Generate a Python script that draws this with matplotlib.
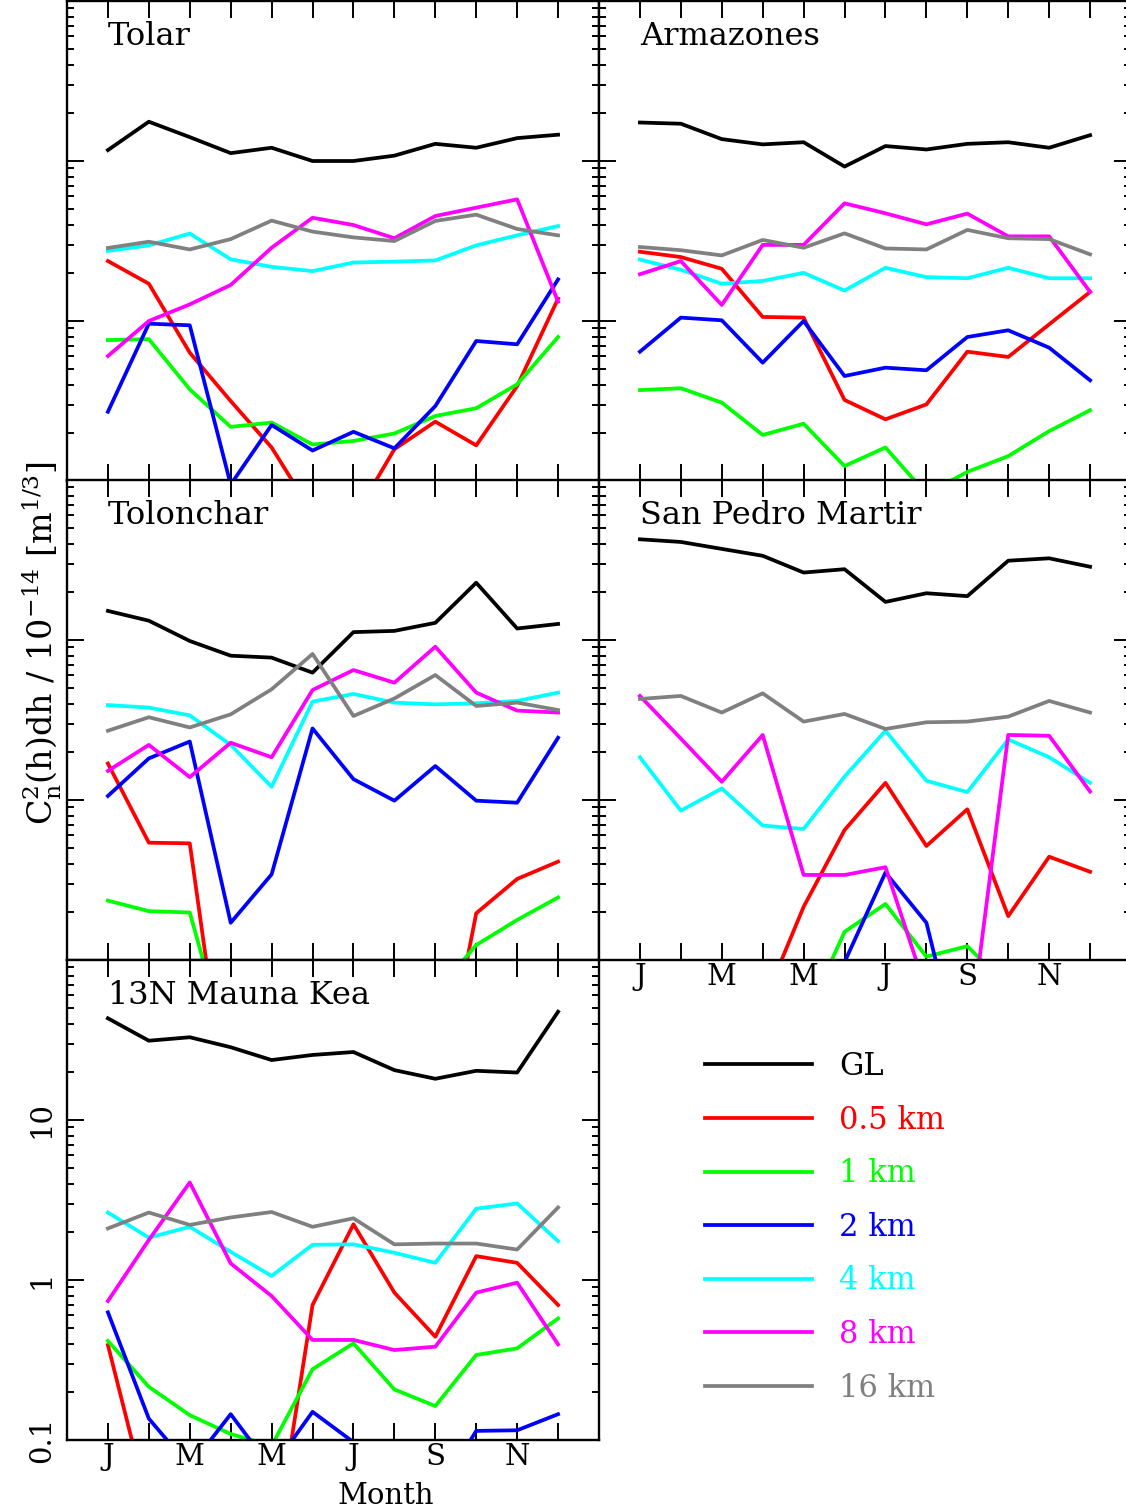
import numpy as np
import matplotlib
matplotlib.use('Agg')
import matplotlib.pyplot as plt
from matplotlib.ticker import LogLocator, NullFormatter, FixedLocator

plt.rcParams['font.family'] = ['DejaVu Serif']
plt.rcParams['mathtext.fontset'] = 'dejavuserif'

months = np.arange(1, 13)
month_labels = ['J', '', 'M', '', 'M', '', 'J', '', 'S', '', 'N', '']
series_names = ['GL', '0.5 km', '1 km', '2 km', '4 km', '8 km', '16 km']
colors = ['#000000', '#ff0000', '#00ff00', '#0000ff', '#00ffff', '#ff00ff', '#808080']
y_tick_values = [0.1, 1, 10]
y_tick_labels = ['0.1', '1', '10']

# Tolar
tolar_gl = [11.7, 17.6, 14.1, 11.2, 12.1, 10.0, 10.0, 10.8, 12.8, 12.1, 13.9, 14.6]
tolar_05 = [2.37, 1.71, 0.634, 0.316, 0.162, 0.063, 0.058, 0.158, 0.235, 0.167, 0.392, 1.38]
tolar_1 = [0.76, 0.77, 0.374, 0.218, 0.232, 0.169, 0.178, 0.198, 0.255, 0.285, 0.402, 0.794]
tolar_2 = [0.271, 0.962, 0.94, 0.095, 0.224, 0.155, 0.203, 0.16, 0.294, 0.75, 0.715, 1.82]
tolar_4 = [2.74, 2.97, 3.52, 2.43, 2.18, 2.05, 2.32, 2.35, 2.39, 2.97, 3.43, 3.92]
tolar_8 = [0.604, 1.0, 1.27, 1.68, 2.87, 4.42, 3.98, 3.29, 4.53, 5.11, 5.76, 1.32]
tolar_16 = [2.86, 3.13, 2.80, 3.25, 4.24, 3.62, 3.33, 3.16, 4.22, 4.62, 3.76, 3.43]

# Armazones
arm_gl = [17.4, 17.1, 13.7, 12.7, 13.1, 9.23, 12.4, 11.8, 12.8, 13.1, 12.1, 14.5]
arm_05 = [2.71, 2.51, 2.12, 1.06, 1.05, 0.321, 0.243, 0.301, 0.643, 0.596, 0.953, 1.52]
arm_1 = [0.37, 0.38, 0.309, 0.194, 0.228, 0.124, 0.162, 0.083, 0.114, 0.143, 0.205, 0.277]
arm_2 = [0.643, 1.05, 1.01, 0.549, 1.0, 0.453, 0.511, 0.492, 0.794, 0.875, 0.681, 0.426]
arm_4 = [2.42, 2.09, 1.71, 1.78, 2.00, 1.55, 2.15, 1.88, 1.85, 2.15, 1.85, 1.85]
arm_8 = [1.96, 2.37, 1.26, 2.99, 2.99, 5.44, 4.71, 4.02, 4.69, 3.38, 3.38, 1.52]
arm_16 = [2.90, 2.77, 2.57, 3.21, 2.87, 3.53, 2.84, 2.80, 3.71, 3.29, 3.25, 2.61]

# Tolonchar
tol_gl = [15.2, 13.2, 9.86, 7.98, 7.76, 6.25, 11.2, 11.4, 12.8, 22.8, 11.8, 12.6]
tol_05 = [1.69, 0.541, 0.536, 0.008, 0.008, 0.008, 0.008, 0.008, 0.0096, 0.196, 0.321, 0.412]
tol_1 = [0.235, 0.202, 0.198, 0.024, 0.02, 0.02, 0.02, 0.02, 0.062, 0.124, 0.178, 0.246]
tol_2 = [1.06, 1.82, 2.32, 0.171, 0.343, 2.80, 1.35, 0.99, 1.63, 0.99, 0.962, 2.45]
tol_4 = [3.92, 3.78, 3.38, 2.21, 1.21, 4.12, 4.60, 4.06, 3.96, 4.02, 4.16, 4.69]
tol_8 = [1.52, 2.21, 1.39, 2.28, 1.85, 4.87, 6.49, 5.41, 9.08, 4.69, 3.62, 3.52]
tol_16 = [2.71, 3.29, 2.84, 3.43, 4.92, 8.18, 3.35, 4.31, 6.04, 3.87, 4.06, 3.65]

# San Pedro Martir
spm_gl = [42.6, 41.0, 37.1, 33.6, 26.4, 27.7, 17.3, 19.6, 18.8, 31.3, 32.4, 28.7]
spm_05 = [0.03, 0.03, 0.03, 0.052, 0.215, 0.649, 1.28, 0.516, 0.875, 0.188, 0.442, 0.356]
spm_1 = [0.03, 0.03, 0.03, 0.03, 0.041, 0.150, 0.224, 0.105, 0.122, 0.068, 0.05, 0.05]
spm_2 = [0.03, 0.03, 0.03, 0.03, 0.03, 0.097, 0.352, 0.171, 0.016, 0.03, 0.03, 0.03]
spm_4 = [1.85, 0.858, 1.18, 0.692, 0.659, 1.40, 2.71, 1.32, 1.12, 2.39, 1.85, 1.28]
spm_8 = [4.47, 2.42, 1.30, 2.55, 0.34, 0.34, 0.38, 0.064, 0.026, 2.55, 2.52, 1.13]
spm_16 = [4.28, 4.47, 3.52, 4.64, 3.09, 3.45, 2.78, 3.06, 3.09, 3.32, 4.16, 3.52]

# 13N Mauna Kea
mk_gl = [43.2, 31.3, 32.9, 28.5, 23.7, 25.5, 26.6, 20.5, 18.1, 20.3, 19.8, 47.5]
mk_05 = [0.392, 0.038, 0.02, 0.02, 0.016, 0.698, 2.23, 0.834, 0.442, 1.41, 1.28, 0.698]
mk_1 = [0.416, 0.215, 0.143, 0.109, 0.092, 0.277, 0.402, 0.207, 0.163, 0.34, 0.374, 0.575]
mk_2 = [0.628, 0.136, 0.068, 0.145, 0.066, 0.150, 0.097, 0.05, 0.044, 0.114, 0.115, 0.145]
mk_4 = [2.64, 1.84, 2.15, 1.50, 1.06, 1.66, 1.67, 1.48, 1.28, 2.79, 3.01, 1.75]
mk_8 = [0.739, 1.78, 4.07, 1.27, 0.794, 0.422, 0.422, 0.365, 0.383, 0.834, 0.962, 0.396]
mk_16 = [2.10, 2.64, 2.21, 2.46, 2.66, 2.15, 2.43, 1.67, 1.69, 1.69, 1.55, 2.84]

sites = [
    ('Tolar', [tolar_gl, tolar_05, tolar_1, tolar_2, tolar_4, tolar_8, tolar_16]),
    ('Armazones', [arm_gl, arm_05, arm_1, arm_2, arm_4, arm_8, arm_16]),
    ('Tolonchar', [tol_gl, tol_05, tol_1, tol_2, tol_4, tol_8, tol_16]),
    ('San Pedro Martir', [spm_gl, spm_05, spm_1, spm_2, spm_4, spm_8, spm_16]),
    ('13N Mauna Kea', [mk_gl, mk_05, mk_1, mk_2, mk_4, mk_8, mk_16]),
]

W, H = 1126, 1511
fig = plt.figure(figsize=(W / 100, H / 100), dpi=100)

col_x = [67, 599]
row_top = [1, 480, 960]
pw, ph = 532, 480
FS = 21

positions = [(0, 0), (1, 0), (0, 1), (1, 1), (0, 2)]
legend_handles = None
for (name, data), (c, r) in zip(sites, positions):
    x0 = col_x[c] / W
    y0 = 1 - (row_top[r] + ph) / H
    ax = fig.add_axes([x0, y0, pw / W, ph / H])
    handles = []
    for vals, col, lab in zip(data, colors, series_names):
        ln, = ax.plot(months, vals, color=col, lw=2.7, label=lab)
        handles.append(ln)
    legend_handles = handles
    ax.set_yscale('log')
    ax.set_ylim(0.1, 100)
    ax.set_xlim(0, 13)
    for s in ax.spines.values():
        s.set_linewidth(1.7)
    ax.xaxis.set_major_locator(FixedLocator(months))
    ax.yaxis.set_major_locator(FixedLocator(y_tick_values))
    ax.yaxis.set_minor_locator(LogLocator(base=10, subs=np.arange(2, 10)))
    ax.yaxis.set_minor_formatter(NullFormatter())
    ax.tick_params(which='both', direction='in', top=True, right=True, width=1.4,
                   labelsize=FS)
    ax.tick_params(which='major', length=12)
    ax.tick_params(which='minor', length=5)
    ax.tick_params(axis='x', pad=2)
    if (c, r) in [(0, 2), (1, 1)]:
        ax.set_xticklabels(month_labels)
    else:
        ax.set_xticklabels([])
    if (c, r) == (0, 2):
        ax.set_yticklabels(y_tick_labels, rotation=90, va='center')
        ax.tick_params(axis='y', pad=8)
    else:
        ax.set_yticklabels([])
    ax.text(41 / pw, 0.958, name, transform=ax.transAxes, fontsize=23,
            va='top', ha='left')

fig.text(386 / W, 1 - 1510 / H, 'Month', fontsize=FS, ha='center', va='bottom')
fig.text(42 / W, 1 - 643 / H,
         r'$\mathrm{C}_{\mathrm{n}}^{\mathrm{2}}$(h)dh / 10$^{-14}$ [m$^{1/3}$]',
         fontsize=24, rotation=90, ha='center', va='center')

leg = fig.legend(handles=legend_handles, labels=series_names, loc='upper left',
                 bbox_to_anchor=(705 / W, 1 - 1051 / H), frameon=False,
                 fontsize=22, handlelength=3.5, handletextpad=0.9,
                 labelspacing=0.74, borderpad=0, borderaxespad=0,
                 labelcolor='linecolor')

fig.savefig('out.png', dpi=100)
